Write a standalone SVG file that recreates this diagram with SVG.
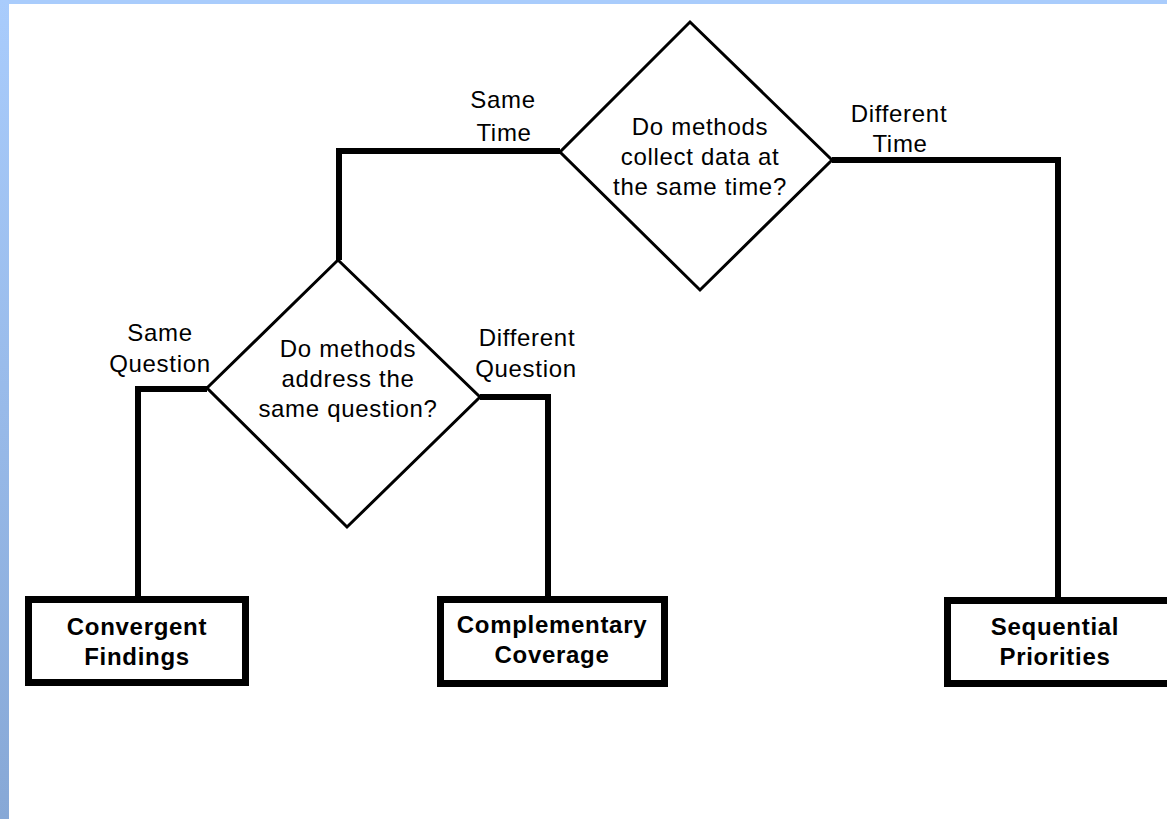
<svg xmlns="http://www.w3.org/2000/svg" width="1167" height="819" viewBox="0 0 1167 819">
<defs>
<linearGradient id="side" x1="0" y1="0" x2="0" y2="1">
<stop offset="0" stop-color="#a9ccfc"/>
<stop offset="1" stop-color="#87a8d6"/>
</linearGradient>
</defs>
<style>
.t{font-family:"Liberation Sans",Arial,sans-serif;font-size:24px;letter-spacing:0.7px;fill:#000;text-anchor:middle}
.b{font-weight:bold}
.dia{fill:#fff;stroke:#000;stroke-width:3;stroke-linejoin:miter}
.box{fill:#fff;stroke:#000;stroke-width:7}
.con{fill:none;stroke:#000;stroke-width:6;stroke-linejoin:miter}
</style>
<rect x="0" y="0" width="1167" height="819" fill="#fff"/>
<rect x="0" y="0" width="1167" height="4" fill="#a9ccfc"/>
<rect x="0" y="0" width="9" height="819" fill="url(#side)"/>
<g id="connectors">
<path class="con" d="M560,151 H339 V260"/>
<path class="con" d="M832,160 H1058 V597"/>
<path class="con" d="M207,389 H138 V597"/>
<path class="con" d="M480,397 H548 V597"/>
</g>
<g id="edge-labels">
<text class="t" x="503" y="108">Same</text>
<text class="t" x="504" y="141">Time</text>
<text class="t" x="899" y="122">Different</text>
<text class="t" x="900" y="152">Time</text>
<text class="t" x="160" y="341">Same</text>
<text class="t" x="160" y="372">Question</text>
<text class="t" x="527" y="346">Different</text>
<text class="t" x="526" y="377">Question</text>
</g>
<g id="decision-time">
<polygon class="dia" points="690,22 832,160 700,290 560,152"/>
<text class="t" x="700" y="135">Do methods</text>
<text class="t" x="700" y="165">collect data at</text>
<text class="t" x="700" y="195">the same time?</text>
</g>
<g id="decision-question">
<polygon class="dia" points="338,260 480,397 347,527 207,388"/>
<text class="t" x="348" y="357">Do methods</text>
<text class="t" x="348" y="387">address the</text>
<text class="t" x="348" y="417">same question?</text>
</g>
<g id="convergent">
<rect class="box" x="28.5" y="599.5" width="217" height="83"/>
<text class="t b" x="137" y="635">Convergent</text>
<text class="t b" x="137" y="665">Findings</text>
</g>
<g id="complementary">
<rect class="box" x="440.5" y="599.5" width="224" height="84"/>
<text class="t b" x="552" y="633">Complementary</text>
<text class="t b" x="552" y="663">Coverage</text>
</g>
<g id="sequential">
<rect class="box" x="947.5" y="600.5" width="230" height="83"/>
<text class="t b" x="1055" y="635">Sequential</text>
<text class="t b" x="1055" y="665">Priorities</text>
</g>
</svg>
